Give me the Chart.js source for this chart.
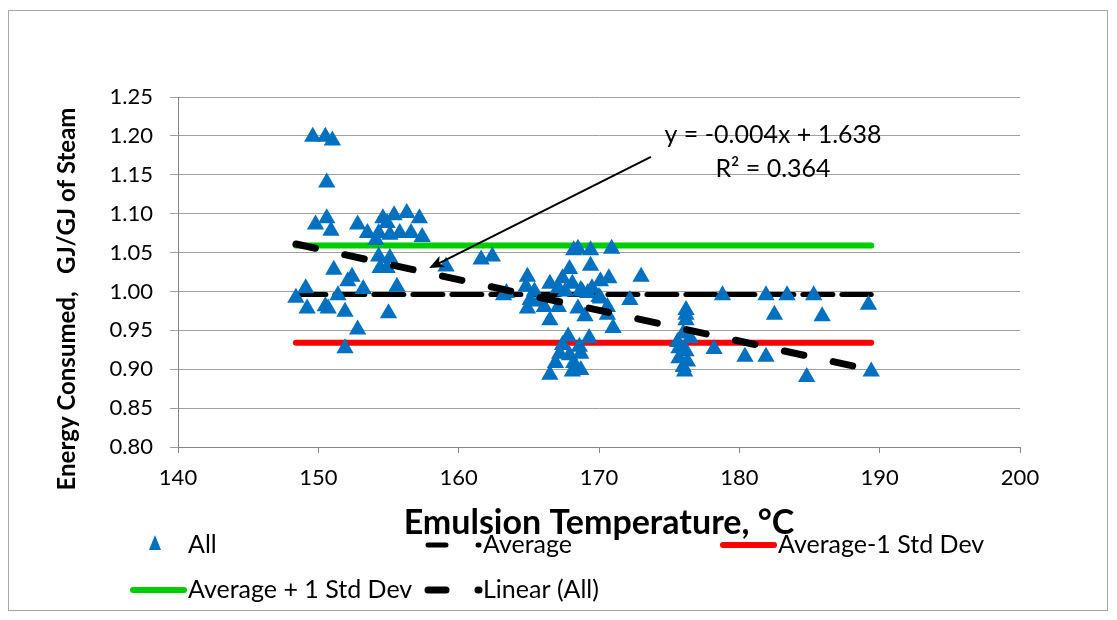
<!DOCTYPE html>
<html>
<head>
<meta charset="utf-8">
<script src="https://cdn.jsdelivr.net/npm/chart.js@4.4.1/dist/chart.umd.min.js"></script>
<style>
  html, body { margin: 0; padding: 0; background: #fff; }
  #wrap { width: 1117px; height: 620px; position: relative; }
</style>
</head>
<body>
<div id="wrap"><canvas id="chart"></canvas></div>
<script>
// emulsion temperature (°C) and energy use (GJ/GJ of steam)
const allX = [
  148.4, 149.1, 149.2, 149.6, 150.5, 151.0, 150.6, 149.8, 150.6, 150.9,
  152.8, 153.5, 154.1, 154.3, 154.6, 154.9, 155.1, 155.4, 155.8, 156.3,
  156.6, 157.2, 157.4, 154.3, 155.1, 154.4, 154.9, 151.1, 152.4, 152.1,
  153.2, 155.6, 151.4, 150.5, 150.7, 151.9, 155.0, 152.8, 151.9,
  159.1, 161.6, 162.4, 163.2, 163.4, 164.8, 164.9, 165.4, 165.1, 165.7,
  164.9, 166.1, 166.5, 166.5, 167.1, 167.1, 167.4, 167.6, 167.9, 168.1,
  168.2, 168.5, 168.7, 168.5, 169.2, 169.4, 169.4, 169.5, 168.8, 169.0,
  170.0, 170.1, 170.1, 170.6, 170.6, 170.7, 170.9, 171.0, 172.2, 173.0,
  167.8, 169.3, 167.4, 167.2, 168.6, 167.9, 168.2, 166.9, 166.5, 168.1,
  168.7, 168.7,
  176.2, 176.2, 176.2, 176.0, 176.5, 175.6, 175.7, 176.2, 175.7, 176.3,
  176.0, 176.1, 178.2, 178.8, 180.4, 181.9, 181.9, 182.5, 183.4, 184.8,
  185.3, 185.9, 189.2, 189.4
];
const allY = [
  0.992, 1.004, 0.978, 1.199, 1.199, 1.194, 1.140, 1.086, 1.094, 1.078,
  1.086, 1.075, 1.066, 1.075, 1.094, 1.088, 1.073, 1.098, 1.075, 1.101,
  1.075, 1.094, 1.070, 1.045, 1.043, 1.030, 1.030, 1.028, 1.019, 1.013,
  1.003, 1.006, 0.995, 0.981, 0.978, 0.974, 0.972, 0.951, 0.927,
  1.032, 1.041, 1.045, 0.995, 0.998, 1.006, 1.019, 1.000, 0.989, 0.987,
  0.978, 0.980, 1.010, 0.963, 1.004, 0.980, 1.017, 1.000, 1.029, 1.010,
  1.053, 1.055, 1.002, 0.978, 0.998, 1.053, 1.033, 1.004, 1.000, 0.968,
  0.993, 1.013, 0.991, 0.980, 0.970, 1.017, 1.055, 0.953, 0.989, 1.019,
  0.942, 0.940, 0.931, 0.920, 0.929, 0.918, 0.908, 0.908, 0.893, 0.897,
  0.920, 0.899,
  0.976, 0.970, 0.963, 0.946, 0.940, 0.935, 0.927, 0.923, 0.914, 0.910,
  0.903, 0.897, 0.926, 0.995, 0.916, 0.916, 0.995, 0.970, 0.995, 0.890,
  0.995, 0.968, 0.983, 0.897
];

// reference lines span the data range
const lineX = [148.4, 189.4];
const average = [0.996, 0.996];
const averageMinusStd = [0.934, 0.934];
const averagePlusStd = [1.059, 1.059];
const linearAll = [1.061, 0.899];

const xTicks = [140, 150, 160, 170, 180, 190, 200];
const yTicks = [0.80, 0.85, 0.90, 0.95, 1.00, 1.05, 1.10, 1.15, 1.20, 1.25];

const trendLabel = ['y = -0.004x + 1.638', 'R² = 0.364'];
const labelAt = [182.4, 1.201, 1.158];       // x, line1 y, line2 y
const arrowFrom = [173.7, 1.173];
const arrowTo = [157.9, 1.030];

const FONT = 'Lato, "Open Sans", sans-serif';

function pts(xs, ys) {
  return xs.map((x, i) => ({ x: x, y: ys[i] }));
}

// excel style legend: fixed columns, two rows
const legendPlugin = {
  id: 'excelLegend',
  afterDraw(chart) {
    const ctx = chart.ctx;
    const cols = [130, 425, 720];
    const rows = [545, 590];
    ctx.save();
    ctx.font = '25px ' + FONT;
    ctx.textBaseline = 'middle';
    ctx.fillStyle = '#000';
    chart.data.datasets.forEach(function (ds, i) {
      const x0 = cols[i % 3];
      const y = rows[Math.floor(i / 3)];
      if (ds.showLine) {
        ctx.save();
        ctx.strokeStyle = ds.borderColor;
        ctx.lineWidth = ds.borderWidth;
        ctx.lineCap = 'round';
        // dashed sample: one dash then a clipped dot, like excel does
        if (ds.borderDash) ctx.setLineDash([18, 32]);
        ctx.beginPath();
        ctx.moveTo(x0 + 3, y);
        ctx.lineTo(x0 + 54, y);
        ctx.stroke();
        ctx.restore();
      } else {
        const r = ds.pointRadius;
        ctx.fillStyle = ds.backgroundColor;
        ctx.beginPath();
        ctx.moveTo(x0 + 25, y - r);
        ctx.lineTo(x0 + 25 + r * 0.866 * 0.7, y + r / 2);
        ctx.lineTo(x0 + 25 - r * 0.866 * 0.7, y + r / 2);
        ctx.closePath();
        ctx.fill();
        ctx.fillStyle = '#000';
      }
      ctx.fillText(ds.label, x0 + 58, y);
    });
    ctx.restore();
  }
};

// trendline equation, arrow, y title and outer frame
const notesPlugin = {
  id: 'notes',
  beforeDraw(chart) {
    const ctx = chart.ctx;
    ctx.save();
    ctx.strokeStyle = '#a6a6a6';
    ctx.lineWidth = 1;
    ctx.strokeRect(8.5, 10.5, 1099, 600);
    ctx.restore();
  },
  afterDraw(chart) {
    const ctx = chart.ctx;
    const xs = chart.scales.x, ys = chart.scales.y;
    ctx.save();
    ctx.fillStyle = '#000';
    ctx.font = '25px ' + FONT;
    ctx.textAlign = 'center';
    ctx.textBaseline = 'middle';
    const lx = xs.getPixelForValue(labelAt[0]);
    ctx.fillText(trendLabel[0], lx, ys.getPixelForValue(labelAt[1]));
    ctx.fillText(trendLabel[1], lx, ys.getPixelForValue(labelAt[2]));

    const ax = xs.getPixelForValue(arrowFrom[0]), ay = ys.getPixelForValue(arrowFrom[1]);
    const bx = xs.getPixelForValue(arrowTo[0]), by = ys.getPixelForValue(arrowTo[1]);
    const ang = Math.atan2(by - ay, bx - ax);
    ctx.strokeStyle = '#000';
    ctx.lineWidth = 2;
    ctx.beginPath();
    ctx.moveTo(ax, ay);
    ctx.lineTo(bx - Math.cos(ang) * 8, by - Math.sin(ang) * 8);
    ctx.stroke();
    ctx.beginPath();
    ctx.moveTo(bx, by);
    ctx.lineTo(bx - Math.cos(ang - 0.4) * 16, by - Math.sin(ang - 0.4) * 16);
    ctx.lineTo(bx - Math.cos(ang) * 11, by - Math.sin(ang) * 11);
    ctx.lineTo(bx - Math.cos(ang + 0.4) * 16, by - Math.sin(ang + 0.4) * 16);
    ctx.closePath();
    ctx.fill();

    // y axis title sits a bit below the plot centre, as in the original
    ctx.translate(67, 299);
    ctx.rotate(-Math.PI / 2);
    ctx.font = 'bold 24px ' + FONT;
    ctx.fillText('Energy Consumed,   GJ/GJ of Steam', 0, 0);
    ctx.restore();
  }
};

new Chart(document.getElementById('chart'), {
  type: 'scatter',
  data: {
    datasets: [
      {
        label: 'All',
        data: pts(allX, allY),
        pointStyle: 'triangle',
        pointRadius: 10,
        pointHoverRadius: 10,
        backgroundColor: '#0070c0',
        borderColor: '#0070c0',
        borderWidth: 0,
        order: 1
      },
      {
        label: 'Average',
        data: pts(lineX, average),
        showLine: true,
        borderColor: '#000',
        borderWidth: 5,
        borderDash: [30, 9],
        borderCapStyle: 'round',
        pointRadius: 0,
        order: 2
      },
      {
        label: 'Average-1 Std Dev',
        data: pts(lineX, averageMinusStd),
        showLine: true,
        borderColor: '#ff0000',
        borderWidth: 6,
        borderCapStyle: 'round',
        pointRadius: 0,
        order: 2
      },
      {
        label: 'Average + 1 Std Dev',
        data: pts(lineX, averagePlusStd),
        showLine: true,
        borderColor: '#00cc00',
        borderWidth: 6,
        borderCapStyle: 'round',
        pointRadius: 0,
        order: 2
      },
      {
        label: 'Linear (All)',
        data: pts(lineX, linearAll),
        showLine: true,
        borderColor: '#000',
        borderWidth: 7,
        borderDash: [20, 30],
        borderCapStyle: 'round',
        pointRadius: 0,
        order: 0
      }
    ]
  },
  options: {
    responsive: true,
    maintainAspectRatio: false,
    animation: false,
    layout: { padding: { left: 0, top: 97, right: 97, bottom: 0 } },
    plugins: {
      legend: { display: false },
      tooltip: { enabled: false }
    },
    scales: {
      x: {
        type: 'linear',
        min: 140,
        max: 200,
        afterFit(scale) { scale.height = 173; },
        afterBuildTicks(scale) { scale.ticks = xTicks.map(v => ({ value: v })); },
        ticks: { color: '#000', font: { family: FONT, size: 22 }, padding: 12 },
        grid: { drawOnChartArea: false, drawTicks: true, tickLength: 6, color: '#868686' },
        border: { display: true, color: '#868686', width: 1 },
        title: {
          display: true,
          text: 'Emulsion Temperature, °C',
          color: '#000',
          font: { family: FONT, size: 34, weight: 'bold' },
          padding: { top: 0, bottom: 77 }
        }
      },
      y: {
        min: 0.8,
        max: 1.25,
        afterFit(scale) { scale.width = 178; },
        afterBuildTicks(scale) { scale.ticks = yTicks.map(v => ({ value: v })); },
        ticks: {
          color: '#000',
          font: { family: FONT, size: 22 },
          padding: 17,
          callback: v => v.toFixed(2)
        },
        grid: { color: '#a0a0a0', drawTicks: true, tickLength: 8 },
        border: { display: true, color: '#868686', width: 1 }
      }
    }
  },
  plugins: [legendPlugin, notesPlugin]
});
</script>
</body>
</html>
